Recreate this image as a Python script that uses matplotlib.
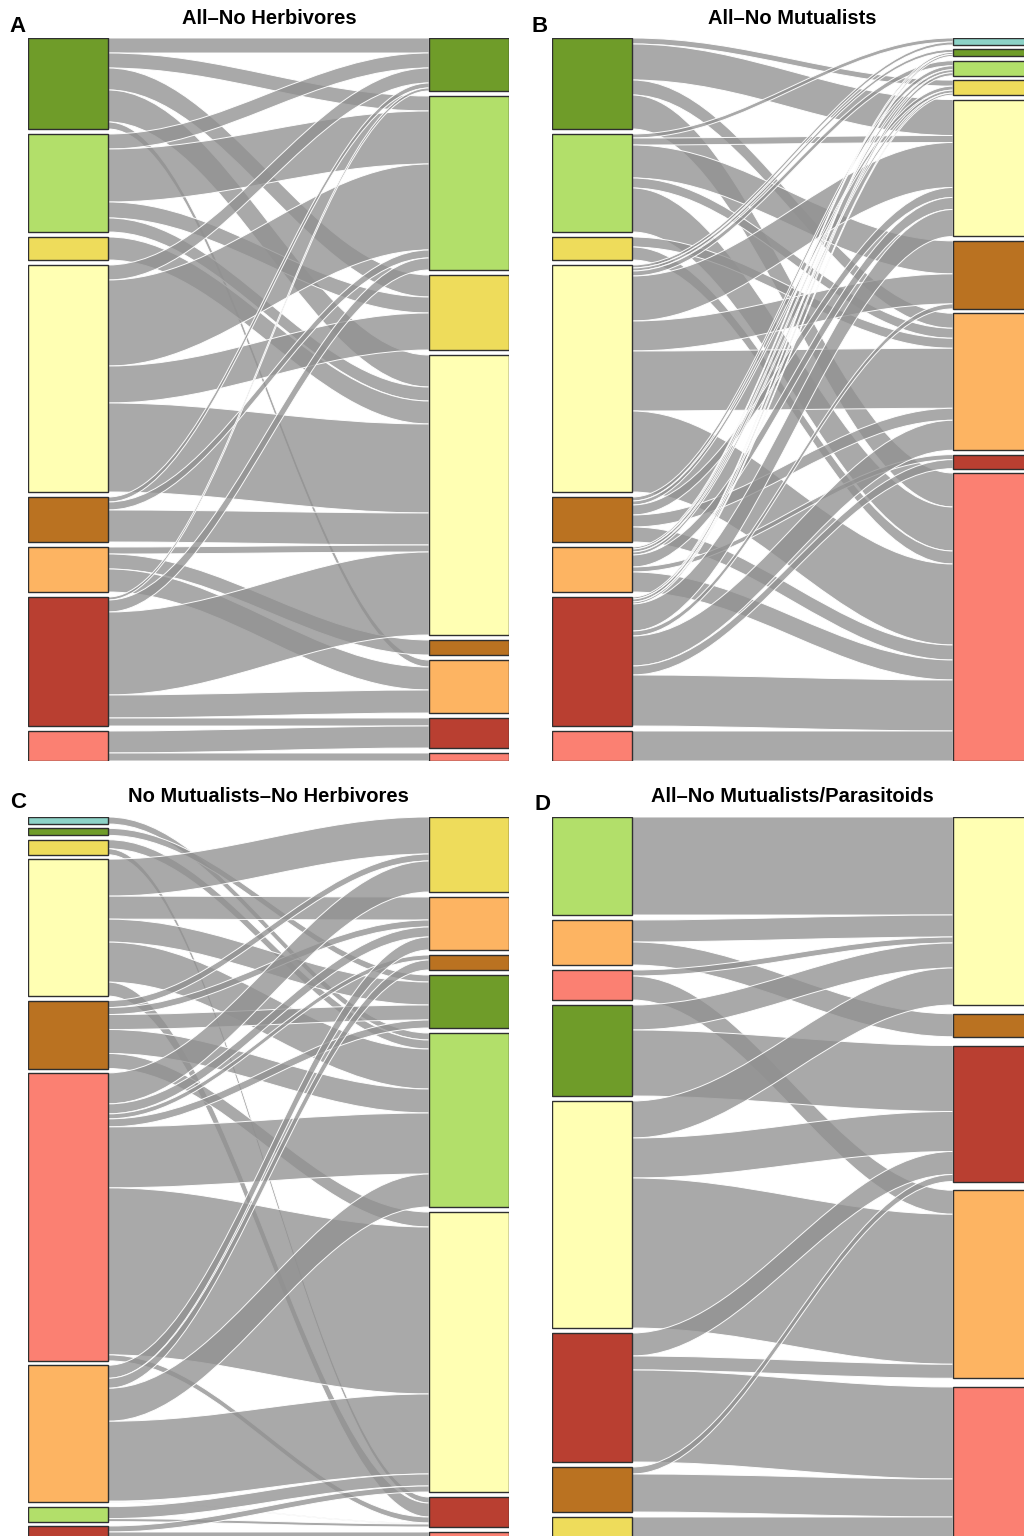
import matplotlib
matplotlib.use("Agg")
import matplotlib.pyplot as plt
from matplotlib.path import Path
from matplotlib.patches import PathPatch, Rectangle

# ---------------------------------------------------------------- data
node_colors = {
    "T": "#8DD3C7",   # teal
    "DG": "#6F9C29",  # dark green
    "LG": "#B2DF6A",  # light green
    "Y": "#EEDC5B",   # yellow
    "PY": "#FFFFB3",  # pale yellow
    "Br": "#BA7221",  # brown
    "Or": "#FDB462",  # orange
    "R": "#B93F31",   # red
    "S": "#FB8072",   # salmon
}

# Panel A: All - No Herbivores
left_a = ["DG", "LG", "Y", "PY", "Br", "Or", "R", "S"]
right_a = ["DG", "LG", "Y", "PY", "Br", "Or", "R", "S"]
flows_a = [
    ("DG", "DG", 15), ("DG", "LG", 15), ("DG", "Y", 22), ("DG", "PY", 32), ("DG", "Or", 7),
    ("LG", "DG", 15), ("LG", "LG", 53), ("LG", "Y", 16), ("LG", "PY", 14),
    ("Y", "PY", 23),
    ("PY", "DG", 15), ("PY", "LG", 86), ("PY", "Y", 37), ("PY", "PY", 89),
    ("Br", "DG", 5), ("Br", "LG", 8), ("Br", "PY", 32),
    ("Or", "PY", 7), ("Or", "Br", 15), ("Or", "Or", 23),
    ("R", "DG", 3), ("R", "LG", 12), ("R", "PY", 83), ("R", "Or", 23), ("R", "R", 8),
    ("S", "R", 22), ("S", "S", 8),
]

# Panel B: All - No Mutualists
left_b = ["DG", "LG", "Y", "PY", "Br", "Or", "R", "S"]
right_b = ["T", "DG", "LG", "Y", "PY", "Br", "Or", "R", "S"]
flows_b = [
    ("DG", "Y", 6), ("DG", "PY", 36), ("DG", "Or", 15), ("DG", "S", 34),
    ("LG", "T", 4), ("LG", "PY", 7), ("LG", "Br", 33), ("LG", "Or", 10), ("LG", "S", 44),
    ("Y", "Or", 10), ("Y", "S", 13),
    ("PY", "T", 3), ("PY", "DG", 3), ("PY", "LG", 5), ("PY", "PY", 45), ("PY", "Br", 30),
    ("PY", "Or", 60), ("PY", "S", 81),
    ("Br", "LG", 4), ("Br", "Y", 4), ("Br", "PY", 10), ("Br", "Or", 12), ("Br", "S", 15),
    ("Or", "DG", 2), ("Or", "LG", 3), ("Or", "Y", 3), ("Or", "PY", 12), ("Or", "R", 5),
    ("Or", "S", 20),
    ("R", "DG", 2), ("R", "LG", 3), ("R", "Y", 2), ("R", "PY", 27), ("R", "Br", 5),
    ("R", "Or", 30), ("R", "R", 9), ("R", "S", 51),
    ("S", "S", 30),
]

# Panel C: No Mutualists - No Herbivores
left_c = ["T", "DG", "Y", "PY", "Br", "S", "Or", "LG", "R"]
right_c = ["Y", "Or", "Br", "DG", "LG", "PY", "R", "S"]
flows_c = [
    ("T", "LG", 7),
    ("DG", "DG", 7),
    ("Y", "LG", 9), ("Y", "R", 6),
    ("PY", "Y", 37), ("PY", "Or", 23), ("PY", "DG", 23), ("PY", "LG", 40), ("PY", "R", 14),
    ("Br", "Y", 7), ("Br", "Or", 7), ("Br", "DG", 15), ("Br", "LG", 24), ("Br", "PY", 15),
    ("S", "Y", 31), ("S", "Or", 10), ("S", "Br", 5), ("S", "DG", 8), ("S", "LG", 61),
    ("S", "PY", 167), ("S", "R", 6),
    ("Or", "Or", 13), ("Or", "Br", 10), ("Or", "LG", 33), ("Or", "PY", 80), ("Or", "R", 1),
    ("LG", "PY", 12), ("LG", "R", 3),
    ("R", "PY", 6), ("R", "S", 8),
]

# Panel D: All - No Mutualists/Parasitoids
left_d = ["LG", "Or", "S", "DG", "PY", "R", "Br", "Y"]
right_d = ["PY", "Br", "R", "Or", "S"]
flows_d = [
    ("LG", "PY", 98),
    ("Or", "PY", 22), ("Or", "Br", 23),
    ("S", "PY", 6), ("S", "Or", 24),
    ("DG", "PY", 25), ("DG", "R", 66),
    ("PY", "PY", 37), ("PY", "R", 40), ("PY", "Or", 150),
    ("R", "R", 23), ("R", "Or", 14), ("R", "S", 92),
    ("Br", "R", 7), ("Br", "S", 38),
    ("Y", "S", 23),
]

titles = ["All\u2013No Herbivores", "All\u2013No Mutualists",
          "No Mutualists\u2013No Herbivores", "All\u2013No Mutualists/Parasitoids"]
letters = ["A", "B", "C", "D"]

# ---------------------------------------------------------------- drawing
W, H = 1024, 1536
fig = plt.figure(figsize=(W / 100, H / 100), dpi=100)

NODE_W = 80
PANEL_W = 481
PANEL_H = 723
CURVE = 0.36          # bezier handle length as a share of the gap between columns
FLOW_FACE = (0.57, 0.57, 0.57, 0.78)
FLOW_EDGE = (1, 1, 1, 0.95)


def stack_nodes(names, sizes, span):
    total = sum(sizes[n] for n in names)
    gap = (span - total) / (len(names) - 1)
    tops, y = {}, 0.0
    for n in names:
        tops[n] = y
        y += sizes[n] + gap
    return tops


def draw_panel(x_px, y_px, left, right, flows):
    ax = fig.add_axes([x_px / W, 1 - (y_px + PANEL_H) / H, PANEL_W / W, PANEL_H / H])
    ax.set_xlim(0, PANEL_W)
    ax.set_ylim(PANEL_H, 0)
    ax.axis("off")

    out_size = {n: 0 for n in left}
    in_size = {n: 0 for n in right}
    for s, t, v in flows:
        out_size[s] += v
        in_size[t] += v
    ltop = stack_nodes(left, out_size, PANEL_H)
    rtop = stack_nodes(right, in_size, PANEL_H)

    # outgoing edges ordered by target position, incoming by source position
    lpos, rpos = {}, {}
    for s in left:
        y = ltop[s]
        for t in right:
            for fs, ft, v in flows:
                if fs == s and ft == t:
                    lpos[(s, t)] = y
                    y += v
    for t in right:
        y = rtop[t]
        for s in left:
            for fs, ft, v in flows:
                if fs == s and ft == t:
                    rpos[(s, t)] = y
                    y += v

    x0, x1 = NODE_W, PANEL_W - NODE_W
    c = CURVE * (x1 - x0)
    for s, t, v in flows:
        ya, yb = lpos[(s, t)], rpos[(s, t)]
        verts = [(x0, ya), (x0 + c, ya), (x1 - c, yb), (x1, yb),
                 (x1, yb + v),
                 (x1 - c, yb + v), (x0 + c, ya + v), (x0, ya + v),
                 (x0, ya)]
        codes = [Path.MOVETO, Path.CURVE4, Path.CURVE4, Path.CURVE4,
                 Path.LINETO,
                 Path.CURVE4, Path.CURVE4, Path.CURVE4,
                 Path.CLOSEPOLY]
        ax.add_patch(PathPatch(Path(verts, codes), facecolor=FLOW_FACE,
                               edgecolor=FLOW_EDGE, lw=0.7, zorder=2))

    for names, tops, sizes, x in ((left, ltop, out_size, 0),
                                  (right, rtop, in_size, PANEL_W - NODE_W)):
        for n in names:
            ax.add_patch(Rectangle((x, tops[n]), NODE_W, sizes[n],
                                   facecolor=node_colors[n], edgecolor="#2f2f2f",
                                   lw=1.0, zorder=3))
    return ax


panels = [
    (28, 38, left_a, right_a, flows_a),
    (552, 38, left_b, right_b, flows_b),
    (28, 817, left_c, right_c, flows_c),
    (552, 817, left_d, right_d, flows_d),
]
for x_px, y_px, left, right, flows in panels:
    draw_panel(x_px, y_px, left, right, flows)

title_pos = [(269, 18), (792, 18), (268, 797), (792, 797)]
letter_pos = [(18, 26), (540, 26), (18, 803), (543, 805)]
for (tx, ty), title in zip(title_pos, titles):
    fig.text(tx / W, 1 - ty / H, title, ha="center", va="center",
             fontsize=14.5, fontweight="bold", family="Liberation Sans")
for (lx, ly), letter in zip(letter_pos, letters):
    fig.text(lx / W, 1 - ly / H, letter, ha="center", va="center",
             fontsize=16, fontweight="bold", family="Liberation Sans")

fig.savefig("out.png", dpi=100, facecolor="white")
